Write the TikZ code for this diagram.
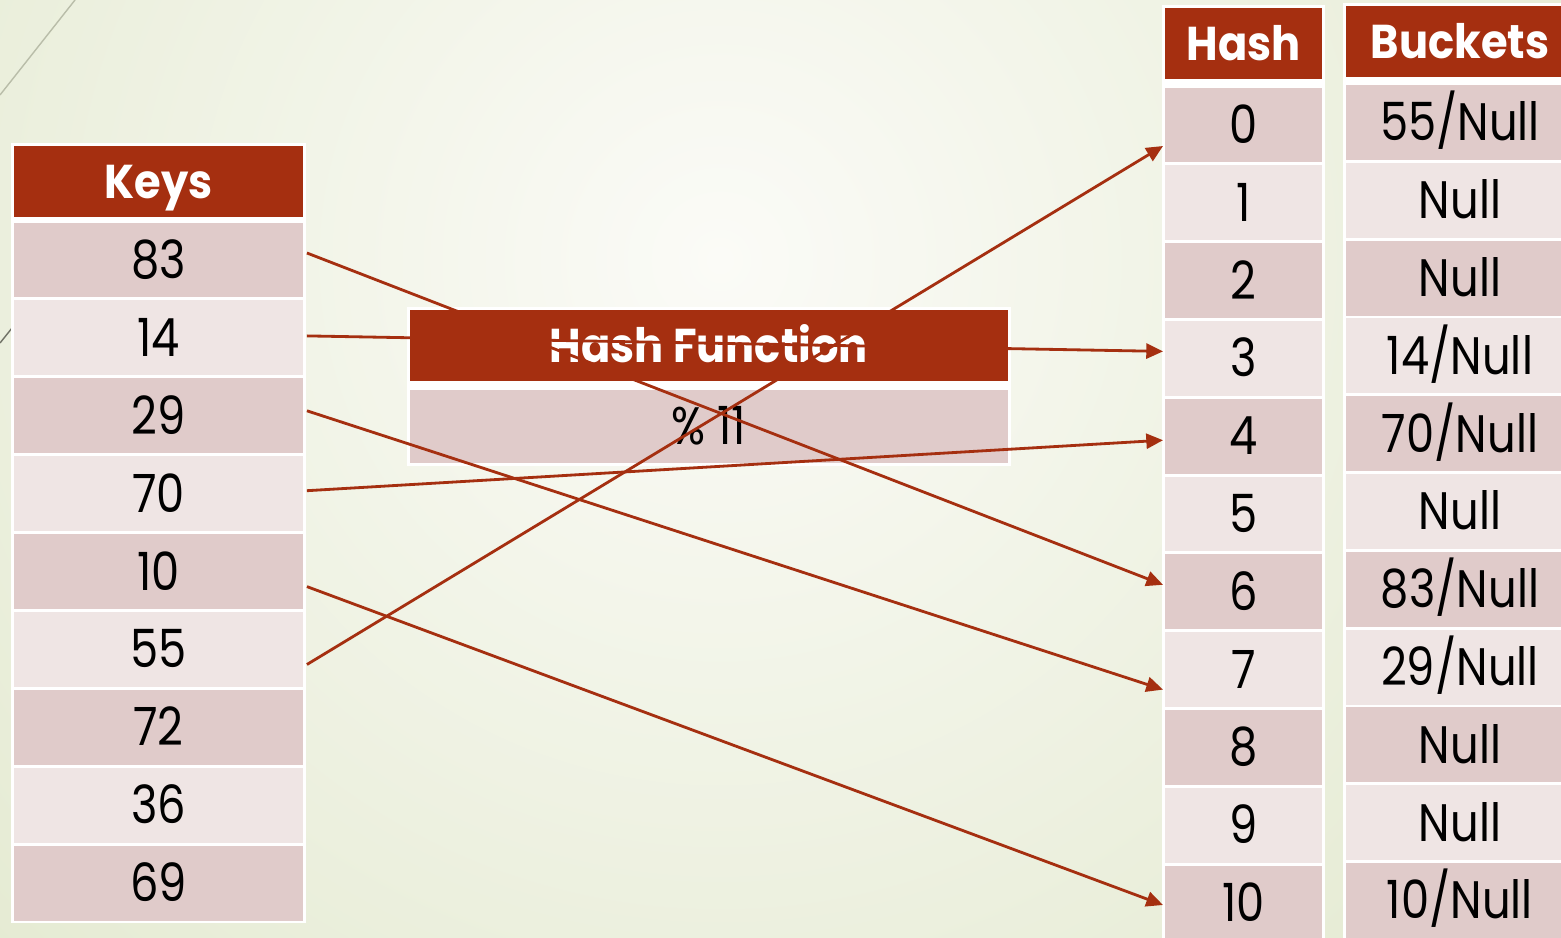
\documentclass[tikz,border=0pt]{standalone}
\usepackage{fontspec}
\setmainfont{Poppins}[FakeStretch=0.85]
\newfontfamily\hdrfont{Poppins}[FakeStretch=0.91]
\usetikzlibrary{calc,arrows.meta}

\definecolor{hdr}{HTML}{A52F10}
\definecolor{rowdark}{HTML}{E0CBCA}
\definecolor{rowlight}{HTML}{EFE5E4}
\definecolor{bgedge}{HTML}{E4EAD1}
\definecolor{bgmid}{HTML}{FBFBF7}
\definecolor{deco}{HTML}{B9BDA9}

\tikzset{
  cellbase/.style={anchor=north west, inner sep=0pt, outer sep=0pt, text=black,
    text height=21pt, text depth=0pt, font=\fontsize{30}{30}\selectfont},
  hdrcell/.style={cellbase, fill=hdr, text=white, text height=19pt,
    font=\hdrfont\fontsize{27}{27}\selectfont\bfseries},
  dark/.style={cellbase, fill=rowdark},
  light/.style={cellbase, fill=rowlight},
  keyw/.style={minimum width=5.78cm},
  hashw/.style={minimum width=3.14cm},
  buckw/.style={minimum width=4.56cm},
  funcw/.style={minimum width=11.96cm},
  rowh/.style={minimum height=1.5cm},
  headh/.style={minimum height=1.42cm},
  mapto/.style={draw=hdr, line width=1.6pt, -{Triangle[length=9.5pt,width=8.5pt]}},
}

\begin{document}
\begin{tikzpicture}[x=0.02cm,y=-0.02cm]
\useasboundingbox (0,0) rectangle (1561,937);

% background
\begin{scope}
  \clip (0,0) rectangle (1561,937);
  \fill[bgedge] (0,0) rectangle (1561,937);
  \shade[inner color=bgmid, outer color=bgedge] (720,260) circle (1050);
  \draw[deco, line width=0.8pt] (75,0) -- (0,95);
  \draw[deco!60!black, line width=0.8pt] (0,343) -- (12,328);
\end{scope}

% keys column
\fill[white] (11,143) rectangle (306,923);
\node[hdrcell, keyw, headh] (kh) at (14,146) {Keys};
\node[dark,  keyw, rowh] (k83) at (14,222.5) {83};
\node[light, keyw, rowh] (k14) at (14,300.4) {14};
\node[dark,  keyw, rowh] (k29) at (14,378.3) {29};
\node[light, keyw, rowh] (k70) at (14,456.2) {70};
\node[dark,  keyw, rowh] (k10) at (14,534.1) {10};
\node[light, keyw, rowh] (k55) at (14,612.0) {55};
\node[dark,  keyw, rowh] (k72) at (14,689.9) {72};
\node[light, keyw, rowh] (k36) at (14,767.8) {36};
\node[dark,  keyw, rowh] (k69) at (14,845.7) {69};

% hash function
\fill[white] (407,307) rectangle (1011,466);
\node[hdrcell, funcw, headh] (fh) at (410,310) {Hash Function};
\node[dark, funcw, minimum height=1.46cm] (fb) at (410,390) {\% 11};

% hash column
\fill[white] (1162,5) rectangle (1325,940);
\node[hdrcell, hashw, headh] (hh) at (1165,8) {Hash};
\foreach \i in {0,...,10}{
  \pgfmathsetmacro{\yy}{87.5+77.8*\i}
  \ifodd\i
    \node[light, hashw, rowh] (h\i) at (1165,\yy) {\i};
  \else
    \node[dark, hashw, rowh] (h\i) at (1165,\yy) {\i};
  \fi
}

% buckets column
\fill[white] (1343,3) rectangle (1580,940);
\node[hdrcell, buckw, headh] (bh) at (1346,6) {Buckets};
\node[dark,  buckw, rowh] (b0)  at (1346,85.0)  {55/Null};
\node[light, buckw, rowh] (b1)  at (1346,162.8) {Null};
\node[dark,  buckw, rowh] (b2)  at (1346,240.6) {Null};
\node[light, buckw, rowh] (b3)  at (1346,318.4) {14/Null};
\node[dark,  buckw, rowh] (b4)  at (1346,396.2) {70/Null};
\node[light, buckw, rowh] (b5)  at (1346,474.0) {Null};
\node[dark,  buckw, rowh] (b6)  at (1346,551.8) {83/Null};
\node[light, buckw, rowh] (b7)  at (1346,629.6) {29/Null};
\node[dark,  buckw, rowh] (b8)  at (1346,707.4) {Null};
\node[light, buckw, rowh] (b9)  at (1346,785.2) {Null};
\node[dark,  buckw, rowh] (b10) at (1346,863.0) {10/Null};

% key -> hash mappings
\draw[mapto] ($(k83.east)+(4,-7)$)  -- ($(h6.west)+(-2,-7)$);
\draw[mapto] ($(k14.east)+(4,-2)$)  -- ($(h3.west)+(-2,-7)$);
\draw[mapto] ($(k29.east)+(4,-5)$)  -- ($(h7.west)+(-2,20)$);
\draw[mapto] ($(k70.east)+(4,-3)$)  -- ($(h4.west)+(-2,4)$);
\draw[mapto] ($(k10.east)+(4,15)$)  -- ($(h10.west)+(-2,2)$);
\draw[mapto] ($(k55.east)+(4,15)$)  -- ($(h0.west)+(-2,21)$);
\end{tikzpicture}
\end{document}
